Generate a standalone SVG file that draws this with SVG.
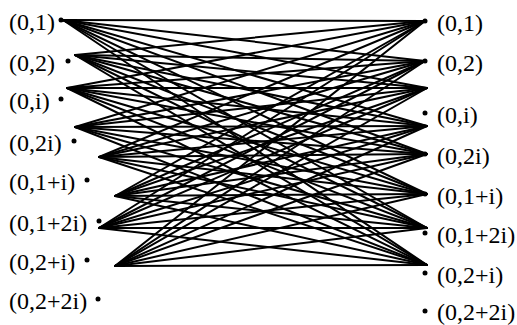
<svg xmlns="http://www.w3.org/2000/svg" width="517" height="325" viewBox="0 0 517 325">
<style>
.t{font-family:'Liberation Serif','Times New Roman','DejaVu Serif',serif;font-size:24px;fill:#000}
.e line{stroke:#000;stroke-width:2;stroke-linecap:round}
.d{fill:#000}
</style>
<rect width="517" height="325" fill="#fff"/>
<g id="edges" class="e">
<line x1="63" y1="20" x2="425" y2="21"/><line x1="63" y1="20" x2="425" y2="61"/><line x1="63" y1="20" x2="427" y2="88"/><line x1="63" y1="20" x2="427" y2="126"/><line x1="63" y1="20" x2="427" y2="154"/><line x1="63" y1="20" x2="427" y2="194"/><line x1="63" y1="20" x2="427" y2="228"/><line x1="63" y1="20" x2="427" y2="265"/>
<line x1="75" y1="55" x2="425" y2="21"/><line x1="75" y1="55" x2="425" y2="61"/><line x1="75" y1="55" x2="427" y2="88"/><line x1="75" y1="55" x2="427" y2="126"/><line x1="75" y1="55" x2="427" y2="154"/><line x1="75" y1="55" x2="427" y2="194"/><line x1="75" y1="55" x2="427" y2="228"/><line x1="75" y1="55" x2="427" y2="265"/>
<line x1="67" y1="88" x2="425" y2="21"/><line x1="67" y1="88" x2="425" y2="61"/><line x1="67" y1="88" x2="427" y2="88"/><line x1="67" y1="88" x2="427" y2="126"/><line x1="67" y1="88" x2="427" y2="154"/><line x1="67" y1="88" x2="427" y2="194"/><line x1="67" y1="88" x2="427" y2="228"/><line x1="67" y1="88" x2="427" y2="265"/>
<line x1="75" y1="127" x2="425" y2="21"/><line x1="75" y1="127" x2="425" y2="61"/><line x1="75" y1="127" x2="427" y2="88"/><line x1="75" y1="127" x2="427" y2="126"/><line x1="75" y1="127" x2="427" y2="154"/><line x1="75" y1="127" x2="427" y2="194"/><line x1="75" y1="127" x2="427" y2="228"/><line x1="75" y1="127" x2="427" y2="265"/>
<line x1="99" y1="157" x2="425" y2="21"/><line x1="99" y1="157" x2="425" y2="61"/><line x1="99" y1="157" x2="427" y2="88"/><line x1="99" y1="157" x2="427" y2="126"/><line x1="99" y1="157" x2="427" y2="154"/><line x1="99" y1="157" x2="427" y2="194"/><line x1="99" y1="157" x2="427" y2="228"/><line x1="99" y1="157" x2="427" y2="265"/>
<line x1="115" y1="196" x2="425" y2="21"/><line x1="115" y1="196" x2="425" y2="61"/><line x1="115" y1="196" x2="427" y2="88"/><line x1="115" y1="196" x2="427" y2="126"/><line x1="115" y1="196" x2="427" y2="154"/><line x1="115" y1="196" x2="427" y2="194"/><line x1="115" y1="196" x2="427" y2="228"/><line x1="115" y1="196" x2="427" y2="265"/>
<line x1="99" y1="228" x2="425" y2="21"/><line x1="99" y1="228" x2="425" y2="61"/><line x1="99" y1="228" x2="427" y2="88"/><line x1="99" y1="228" x2="427" y2="126"/><line x1="99" y1="228" x2="427" y2="154"/><line x1="99" y1="228" x2="427" y2="194"/><line x1="99" y1="228" x2="427" y2="228"/><line x1="99" y1="228" x2="427" y2="265"/>
<line x1="115" y1="266" x2="425" y2="21"/><line x1="115" y1="266" x2="425" y2="61"/><line x1="115" y1="266" x2="427" y2="88"/><line x1="115" y1="266" x2="427" y2="126"/><line x1="115" y1="266" x2="427" y2="154"/><line x1="115" y1="266" x2="427" y2="194"/><line x1="115" y1="266" x2="427" y2="228"/><line x1="115" y1="266" x2="427" y2="265"/>
</g>
<g id="left-0-1"><text class="t" font-family="Liberation Serif" x="9" y="30">(0,1)</text><circle class="d" cx="61" cy="20" r="2.5"/></g>
<g id="left-0-2"><text class="t" x="9" y="71">(0,2)</text><circle class="d" cx="68" cy="61" r="2.5"/></g>
<g id="left-0-i"><text class="t" x="9" y="109">(0,i)</text><circle class="d" cx="61" cy="99" r="2.5"/></g>
<g id="left-0-2i"><text class="t" x="9" y="151">(0,2i)</text><circle class="d" cx="74" cy="141" r="2.5"/></g>
<g id="left-0-1pi"><text class="t" x="9" y="190">(0,1+i)</text><circle class="d" cx="87" cy="180" r="2.5"/></g>
<g id="left-0-1p2i"><text class="t" x="9" y="231">(0,1+2i)</text><circle class="d" cx="99" cy="221" r="2.5"/></g>
<g id="left-0-2pi"><text class="t" x="9" y="270">(0,2+i)</text><circle class="d" cx="87" cy="260" r="2.5"/></g>
<g id="left-0-2p2i"><text class="t" x="9" y="309">(0,2+2i)</text><circle class="d" cx="98" cy="299" r="2.5"/></g>
<g id="right-0-1"><circle class="d" cx="425" cy="21" r="2.5"/><text class="t" x="437" y="31">(0,1)</text></g>
<g id="right-0-2"><circle class="d" cx="425" cy="61" r="2.5"/><text class="t" x="437" y="71">(0,2)</text></g>
<g id="right-0-i"><circle class="d" cx="425" cy="113" r="2.5"/><text class="t" x="437" y="123">(0,i)</text></g>
<g id="right-0-2i"><circle class="d" cx="425" cy="154" r="2.5"/><text class="t" x="437" y="164">(0,2i)</text></g>
<g id="right-0-1pi"><circle class="d" cx="425" cy="194" r="2.5"/><text class="t" x="437" y="204">(0,1+i)</text></g>
<g id="right-0-1p2i"><circle class="d" cx="425" cy="233" r="2.5"/><text class="t" x="437" y="243">(0,1+2i)</text></g>
<g id="right-0-2pi"><circle class="d" cx="425" cy="273" r="2.5"/><text class="t" x="437" y="283">(0,2+i)</text></g>
<g id="right-0-2p2i"><circle class="d" cx="425" cy="311" r="2.5"/><text class="t" x="437" y="320">(0,2+2i)</text></g>
</svg>
